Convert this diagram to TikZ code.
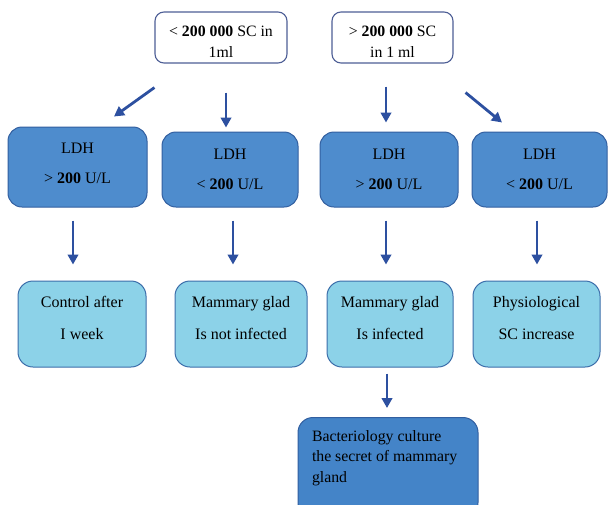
\documentclass[tikz,border=0pt]{standalone}
\usepackage{fontspec}
\setmainfont{Liberation Serif}
\usetikzlibrary{arrows.meta,calc}
\definecolor{topborder}{RGB}{78,95,150}
\definecolor{ldhfill}{RGB}{78,140,205}
\definecolor{ldhborder}{RGB}{50,95,160}
\definecolor{resfill}{RGB}{140,210,232}
\definecolor{resborder}{RGB}{60,110,170}
\definecolor{botfill}{RGB}{68,132,200}
\definecolor{arrowc}{RGB}{45,80,160}
\begin{document}
\begin{tikzpicture}[x=1pt,y=-1pt,
  topbox/.style={draw=topborder,line width=1.1pt,rounded corners=9pt,fill=white,align=center,inner sep=0pt,text height=40pt,font=\fontsize{15.8}{21}\selectfont},
  ldhbox/.style={draw=ldhborder,line width=1pt,fill=ldhfill,rounded corners=14pt,align=center,inner sep=0pt,font=\fontsize{16}{30}\selectfont},
  resbox/.style={draw=resborder,line width=1pt,fill=resfill,rounded corners=15pt,align=center,inner sep=0pt,text depth=12pt,font=\fontsize{16}{32}\selectfont},
  botbox/.style={draw=ldhborder,line width=1pt,fill=botfill,rounded corners=15pt,inner sep=0pt,font=\fontsize{15.8}{20.5}\selectfont},
  arr/.style={draw=arrowc,line width=2.8pt,-{Triangle[length=10pt,width=10.5pt]}}]
\clip (0,0) rectangle (608,504);
\fill[white] (0,0) rectangle (608,504);
% top row
\node[topbox,minimum width=132pt,minimum height=51pt] (t1) at (221,37.5) {< \textbf{200 000} SC in\\1ml};
\node[topbox,minimum width=121pt,minimum height=51pt] (t2) at (392.5,37.5) {> \textbf{200 000} SC\\in 1 ml};
% LDH row
\node[ldhbox,minimum width=139pt,minimum height=80pt,text depth=8pt] (a) at (77.5,167) {LDH\\> \textbf{200} U/L};
\node[ldhbox,minimum width=136pt,minimum height=75pt] (b) at (230,169.5) {LDH\\< \textbf{200} U/L};
\node[ldhbox,minimum width=138pt,minimum height=75pt] (c) at (389,169.5) {LDH\\> \textbf{200} U/L};
\node[ldhbox,minimum width=135pt,minimum height=75pt] (d) at (539.5,169.5) {LDH\\< \textbf{200} U/L};
% result row
\node[resbox,minimum width=128pt,minimum height=86pt] (r1) at (82,324) {Control after\\I week};
\node[resbox,minimum width=132pt,minimum height=86pt] (r2) at (241,324) {Mammary glad\\Is not infected};
\node[resbox,minimum width=126pt,minimum height=86pt] (r3) at (390,324) {Mammary glad\\Is infected};
\node[resbox,minimum width=127pt,minimum height=86pt] (r4) at (536.5,324) {Physiological\\SC increase};
% bottom
\node[botbox,anchor=north] (e) at (388,417) {\hspace*{14pt}\parbox[c][100pt][t]{156pt}{\vspace*{13pt}Bacteriology culture\\the secret of mammary\\gland}\hspace*{10pt}};
% arrows
\draw[arr] ($(t1.south west)+(0,24)$) -- ($(a.north)+(36.5,-10)$);
\draw[arr] ($(t1.south)+(5,29)$) -- ($(b.north)+(-4,-4)$);
\draw[arr] ($(t2.south)+(-6.5,23)$) -- ($(c.north)+(-3,-9)$);
\draw[arr] ($(t2.south east)+(12,29)$) -- ($(d.north)+(-37.5,-9)$);
\draw[arr] ($(a.south)+(-4.5,13)$) -- ($(r1.north)+(-9,-16)$);
\draw[arr] ($(b.south)+(3,13)$) -- ($(r2.north)+(-8,-16)$);
\draw[arr] ($(c.south)+(-3,13)$) -- ($(r3.north)+(-4,-16)$);
\draw[arr] ($(d.south)+(-2.5,13)$) -- ($(r4.north)+(0.5,-16)$);
\draw[arr] ($(r3.south)+(-3,6)$) -- ($(e.north)+(-1,-9)$);
\end{tikzpicture}
\end{document}
